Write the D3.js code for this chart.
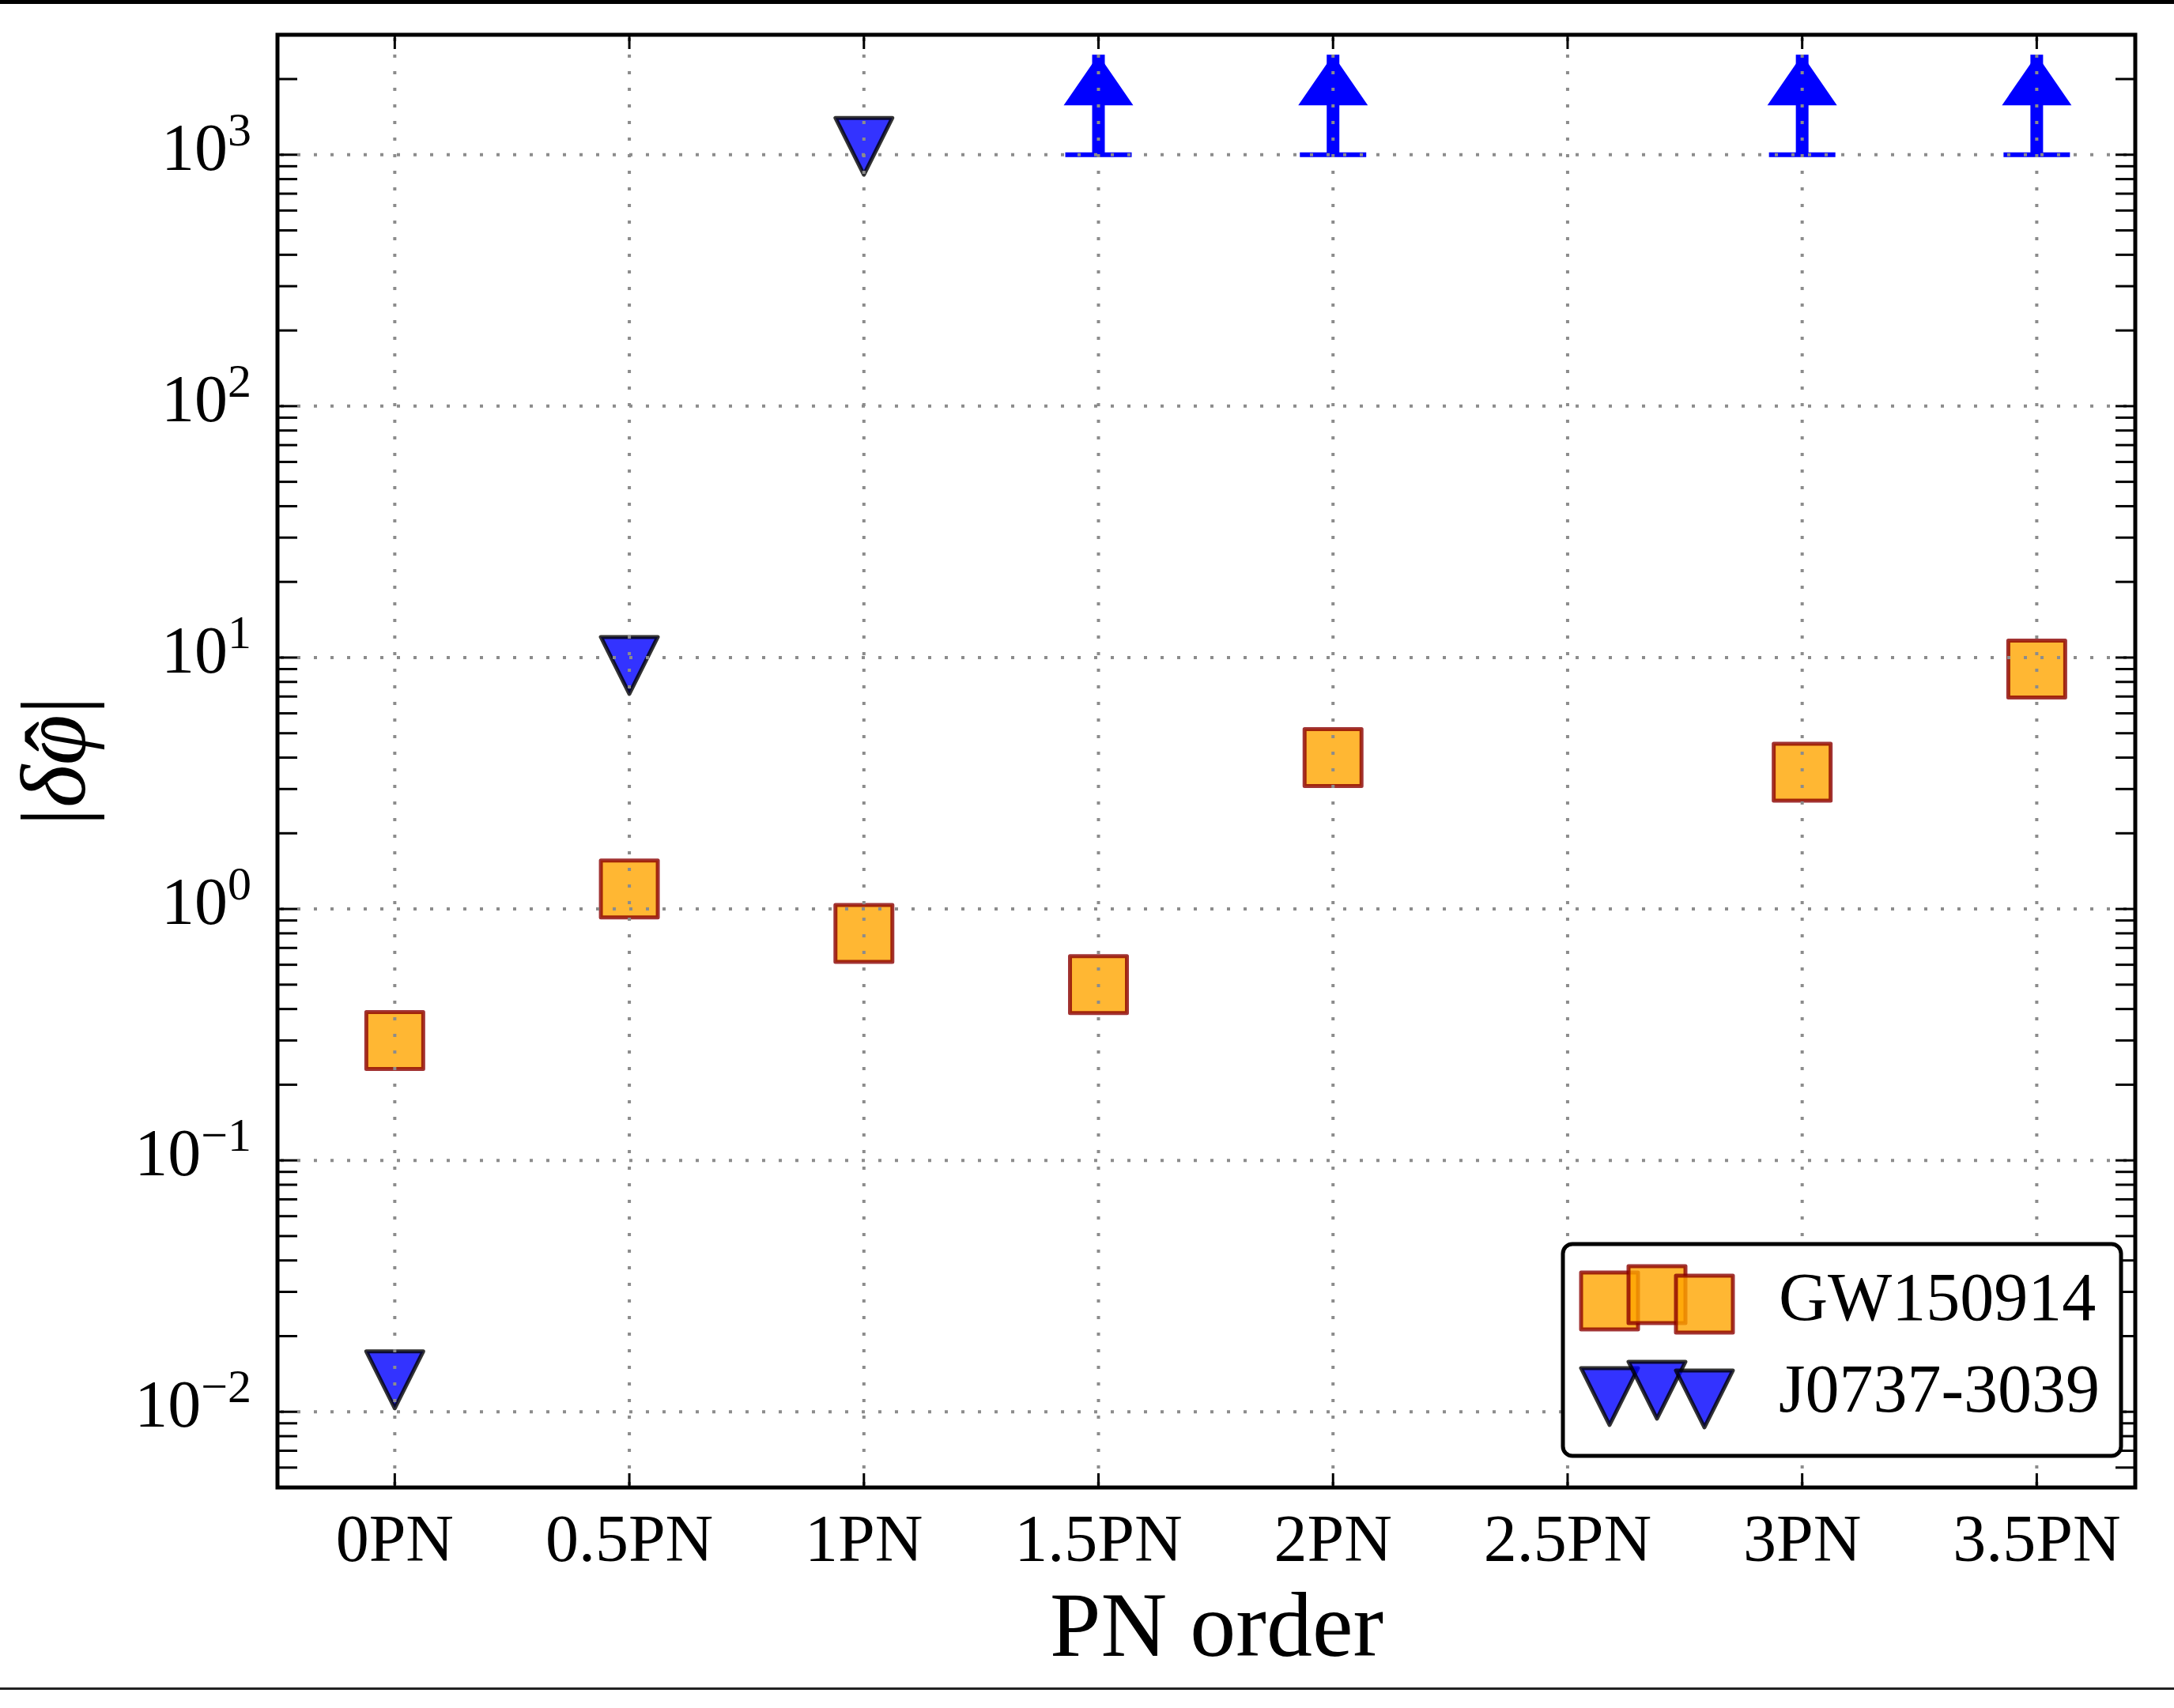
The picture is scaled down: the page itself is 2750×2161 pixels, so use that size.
<!DOCTYPE html>
<html>
<head>
<meta charset="utf-8">
<script src="https://cdn.jsdelivr.net/npm/d3@7"></script>
<style>
  html, body { margin: 0; padding: 0; background: #fff; }
  svg { display: block; }
  text { font-family: "Liberation Serif", "DejaVu Serif", serif; fill: #000; }
</style>
</head>
<body>
<script>
// ---------------- data ----------------
const pnLabels = ["0PN", "0.5PN", "1PN", "1.5PN", "2PN", "2.5PN", "3PN", "3.5PN"];
const pnOrders = [0, 0.5, 1, 1.5, 2, 2.5, 3, 3.5];

const gwOrders = [0, 0.5, 1, 1.5, 2, 3, 3.5];
const gwValues = [0.30, 1.20, 0.80, 0.50, 4.0, 3.5, 9.0];

const psrOrders = [0, 0.5, 1];
const psrValues = [0.0134, 9.3, 1080];

const psrLimitOrders = [1.5, 2, 3, 3.5];
const psrLimitLower = [1000, 1000, 1000, 1000];
const psrLimitUpper = [2500, 2500, 2500, 2500];

const yTickExps = [-2, -1, 0, 1, 2, 3];
const legendNames = ["GW150914", "J0737-3039"];

// ---------------- layout ----------------
const W = 2750, H = 2161;
const L = 351, R = 2701, T = 44, B = 1882;

const svg = d3.select("body").append("svg").attr("width", W).attr("height", H);

const x = d3.scaleLinear().domain([-0.25, 3.71]).range([L, R]);
const y = d3.scaleLog().domain([0.005, 3000]).range([B, T]);

// figure border lines
svg.append("rect").attr("x", 0).attr("y", 0).attr("width", W).attr("height", 5).attr("fill", "#000");
svg.append("rect").attr("x", 0).attr("y", 2135).attr("width", W).attr("height", 3).attr("fill", "#222");

const plot = svg.append("g");

const MS = 72;
const sqColor = "orange", sqEdge = "darkred";
const triColor = "blue", triEdge = "#000";

function squarePath(cx, cy, s) {
  const h = s / 2;
  return `M${cx - h},${cy - h}L${cx + h},${cy - h}L${cx + h},${cy + h}L${cx - h},${cy + h}Z`;
}
function triDownPath(cx, cy, s) {
  const h = s / 2;
  return `M${cx - h},${cy - h}L${cx + h},${cy - h}L${cx},${cy + h}Z`;
}

// GW150914 squares
plot.selectAll("path.gw").data(gwOrders.map((o, i) => ({ o, v: gwValues[i] })))
  .enter().append("path").attr("class", "gw")
  .attr("d", d => squarePath(x(d.o), y(d.v), MS))
  .attr("fill", sqColor).attr("fill-opacity", 0.8)
  .attr("stroke", sqEdge).attr("stroke-opacity", 0.8).attr("stroke-width", 5)
  .attr("stroke-linejoin", "round");

// J0737 triangles
plot.selectAll("path.psr").data(psrOrders.map((o, i) => ({ o, v: psrValues[i] })))
  .enter().append("path").attr("class", "psr")
  .attr("d", d => triDownPath(x(d.o), y(d.v), MS))
  .attr("fill", triColor).attr("fill-opacity", 0.8)
  .attr("stroke", triEdge).attr("stroke-opacity", 0.8).attr("stroke-width", 5)
  .attr("stroke-linejoin", "round");

// lower-limit arrows
const lim = psrLimitOrders.map((o, i) => ({ o, lo: psrLimitLower[i], hi: psrLimitUpper[i] }));
const arrowG = plot.append("g").attr("fill", "#0000ff").attr("stroke", "none");
lim.forEach(d => {
  const cx = x(d.o), y0 = y(d.lo), y1 = y(d.hi);
  arrowG.append("rect").attr("x", cx - 42).attr("y", y0 - 3).attr("width", 84).attr("height", 6);
  arrowG.append("rect").attr("x", cx - 8).attr("y", y1).attr("width", 16).attr("height", y0 - y1);
  arrowG.append("path").attr("d", `M${cx},${y1}L${cx + 44},${y1 + 64}L${cx - 44},${y1 + 64}Z`);
});

// grid (on top of markers)
const grid = svg.append("g").attr("stroke", "#8c8c8c").attr("stroke-width", 4)
  .attr("stroke-dasharray", "4,17").attr("fill", "none");
pnOrders.forEach(o => {
  grid.append("line").attr("x1", x(o)).attr("x2", x(o)).attr("y1", T + 4).attr("y2", B);
});
yTickExps.forEach(e => {
  const v = Math.pow(10, e);
  grid.append("line").attr("x1", L + 4).attr("x2", R).attr("y1", y(v)).attr("y2", y(v));
});

// ticks
const ticks = svg.append("g").attr("stroke", "#000").attr("stroke-width", 3);
pnOrders.forEach(o => {
  ticks.append("line").attr("x1", x(o)).attr("x2", x(o)).attr("y1", B).attr("y2", B - 18);
  ticks.append("line").attr("x1", x(o)).attr("x2", x(o)).attr("y1", T).attr("y2", T + 18);
});
const minorVals = [];
for (let e = -3; e <= 3; e++) {
  for (let k = 1; k <= 9; k++) {
    const v = k * Math.pow(10, e);
    const yy = y(v);
    if (yy > T + 2 && yy < B - 2) minorVals.push(v);
  }
}
minorVals.forEach(v => {
  const yy = y(v);
  ticks.append("line").attr("x1", L).attr("x2", L + 25).attr("y1", yy).attr("y2", yy);
  ticks.append("line").attr("x1", R).attr("x2", R - 25).attr("y1", yy).attr("y2", yy);
});

// frame
svg.append("rect").attr("x", L).attr("y", T).attr("width", R - L).attr("height", B - T)
  .attr("fill", "none").attr("stroke", "#000").attr("stroke-width", 5);

// x tick labels
svg.append("g").selectAll("text").data(pnOrders).enter().append("text")
  .attr("x", d => x(d)).attr("y", 1975).attr("text-anchor", "middle")
  .attr("font-size", 84).text((d, i) => pnLabels[i]);

// y tick labels
yTickExps.forEach(e => {
  const t = svg.append("text").attr("x", 318).attr("y", y(Math.pow(10, e)) + 19)
    .attr("text-anchor", "end").attr("font-size", 84);
  t.append("tspan").text("10");
  t.append("tspan").attr("dy", -31).attr("font-size", 60).text(e < 0 ? "\u2212" + (-e) : String(e));
});

// axis labels
svg.append("text").attr("x", 1539).attr("y", 2095).attr("text-anchor", "middle")
  .attr("font-size", 116).text("PN order");

const ylg = svg.append("g").attr("transform", "translate(107,963) rotate(-90)");
const yl = ylg.append("text").attr("x", 0).attr("y", 0)
  .attr("text-anchor", "middle").attr("font-size", 116);
yl.append("tspan").text("|");
yl.append("tspan").attr("font-style", "italic").text("\u03B4\u03C6");
yl.append("tspan").text("|");
// hat over phi (character index 2)
let phiMid = 22;
try {
  const n = yl.node();
  const s = n.getStartPositionOfChar(2).x, e2 = n.getEndPositionOfChar(2).x;
  phiMid = (s + e2) / 2;
} catch (err) {}
ylg.append("text").attr("x", phiMid + 4).attr("y", 6).attr("text-anchor", "middle")
  .attr("font-size", 116).text("\u02C6");

// legend
const lg = svg.append("g");
lg.append("rect").attr("x", 1977).attr("y", 1574).attr("width", 706).attr("height", 268)
  .attr("rx", 12).attr("ry", 12).attr("fill", "#fff").attr("stroke", "#000").attr("stroke-width", 5);
const lgX = [2036, 2096, 2156];
const sqOff = [8, 0, 12];
const triOff = [8, 0, 11];
lgX.forEach((lx, i) => {
  lg.append("path").attr("d", squarePath(lx, 1638 + sqOff[i], MS))
    .attr("fill", sqColor).attr("fill-opacity", 0.8)
    .attr("stroke", sqEdge).attr("stroke-opacity", 0.8).attr("stroke-width", 5)
    .attr("stroke-linejoin", "round");
});
lgX.forEach((lx, i) => {
  lg.append("path").attr("d", triDownPath(lx, 1759 + triOff[i], MS))
    .attr("fill", triColor).attr("fill-opacity", 0.8)
    .attr("stroke", triEdge).attr("stroke-opacity", 0.8).attr("stroke-width", 5)
    .attr("stroke-linejoin", "round");
});
lg.append("text").attr("x", 2250).attr("y", 1670).attr("font-size", 86).text(legendNames[0]);
lg.append("text").attr("x", 2250).attr("y", 1786).attr("font-size", 86).text(legendNames[1]);
</script>
</body>
</html>
